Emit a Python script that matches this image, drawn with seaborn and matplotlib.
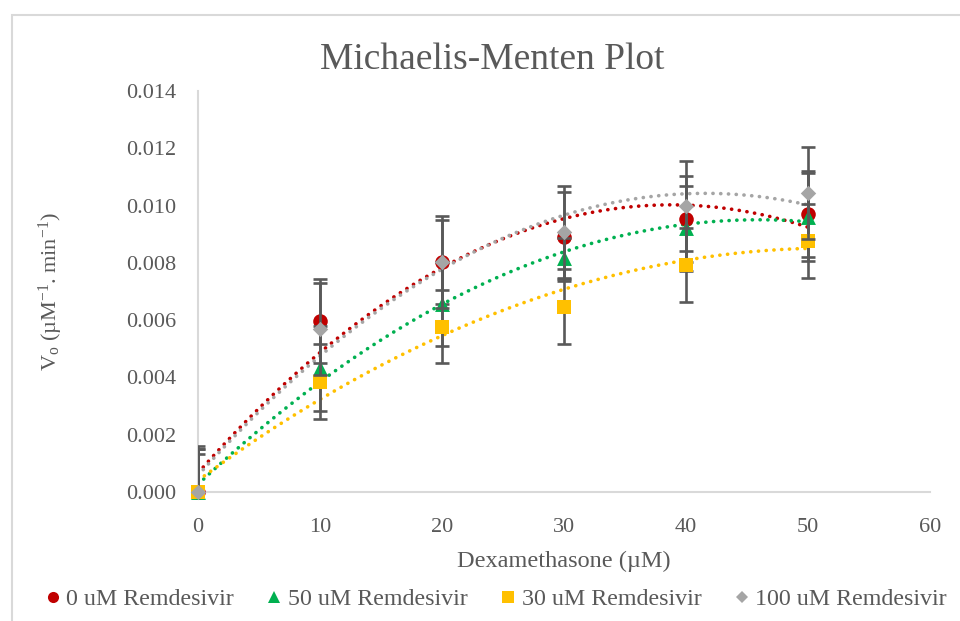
import numpy as np
import pandas as pd
import matplotlib
matplotlib.use("Agg")
import matplotlib.pyplot as plt
from matplotlib.lines import Line2D
from matplotlib.patches import Rectangle
import seaborn as sns

# Substrate concentrations (µM)
dexamethasone = [0, 10, 20, 30, 40, 50]

# Initial velocities for each inhibitor level
v_0uM = [0.0, 0.00598, 0.00804, 0.00891, 0.00954, 0.00970]
v_50uM = [0.0, 0.00432, 0.00656, 0.00816, 0.00920, 0.00959]
v_30uM = [0.0, 0.00385, 0.00577, 0.00647, 0.00792, 0.00876]
v_100uM = [0.0, 0.00568, 0.00804, 0.00906, 0.00999, 0.01043]

# Standard deviations
sd_0uM = [0.00150, 0.00146, 0.00146, 0.00155, 0.00150, 0.00150]
sd_50uM = [0.00149, 0.00149, 0.00146, 0.00070, 0.00149, 0.00153]
sd_30uM = [0.00133, 0.00130, 0.00128, 0.00130, 0.00130, 0.00128]
sd_100uM = [0.00161, 0.00161, 0.00160, 0.00161, 0.00157, 0.00160]

series_names = ["0 uM Remdesivir", "50 uM Remdesivir", "30 uM Remdesivir", "100 uM Remdesivir"]
values = [v_0uM, v_50uM, v_30uM, v_100uM]
errors = [sd_0uM, sd_50uM, sd_30uM, sd_100uM]

colors = {"0 uM Remdesivir": "#C00000", "50 uM Remdesivir": "#00B050",
          "30 uM Remdesivir": "#FFC000", "100 uM Remdesivir": "#A5A5A5"}
markers = {"0 uM Remdesivir": "o", "50 uM Remdesivir": "^",
           "30 uM Remdesivir": "s", "100 uM Remdesivir": "D"}
msizes = {"0 uM Remdesivir": 110, "50 uM Remdesivir": 115,
          "30 uM Remdesivir": 100, "100 uM Remdesivir": 62}

df = pd.DataFrame({
    "x": np.tile(dexamethasone, len(series_names)),
    "v": np.concatenate(values),
    "sd": np.concatenate(errors),
    "series": np.repeat(series_names, len(dexamethasone)),
})

sns.set_theme(style="white")
plt.rcParams["font.family"] = ["Liberation Serif", "DejaVu Serif"]
plt.rcParams["mathtext.fontset"] = "custom"
plt.rcParams["mathtext.rm"] = "Liberation Serif"
plt.rcParams["mathtext.it"] = "Liberation Serif:italic"

text_color = "#595959"
fig = plt.figure(figsize=(9.6, 6.21), dpi=100)
ax = fig.add_axes([198 / 960, 1 - 492 / 621, (930 - 198) / 960, (492 - 91) / 621])

# Chart-area frame
fig.patches.append(Rectangle((12 / 960, -0.1), 1.2, (621 - 15) / 621 + 0.1,
                             transform=fig.transFigure, fill=False,
                             edgecolor="#D9D9D9", linewidth=1.5))

# Second-order polynomial trendlines
xs = np.linspace(0, 50, 200)
for name, v in zip(series_names, values):
    coef = np.polyfit(dexamethasone, v, 2)
    trend = pd.DataFrame({"x": xs, "v": np.polyval(coef, xs)})
    sns.lineplot(data=trend, x="x", y="v", ax=ax, color=colors[name],
                 linewidth=2.6, linestyle=(0, (0.05, 2.1)), zorder=2,
                 dash_capstyle="round")

# Error bars and markers, series by series
for i, name in enumerate(series_names):
    sub = df[df["series"] == name]
    ax.errorbar(sub["x"], sub["v"], yerr=sub["sd"], fmt="none",
                ecolor="#595959", elinewidth=1.9, capsize=5, capthick=1.9,
                zorder=3 + 2 * i)
    sns.scatterplot(data=sub, x="x", y="v", ax=ax, color=colors[name],
                    marker=markers[name], s=msizes[name], linewidth=0,
                    zorder=4 + 2 * i, legend=False, clip_on=False)

ax.set_xlim(0, 60)
ax.set_ylim(0, 0.014)
ax.set_xticks(np.arange(0, 61, 10))
ax.set_yticks(np.arange(0, 0.0141, 0.002))
ax.set_yticklabels([f"{t:.3f}" for t in np.arange(0, 0.0141, 0.002)])
ax.tick_params(axis="both", length=0, labelsize=16, colors=text_color)
ax.tick_params(axis="y", pad=16)
ax.tick_params(axis="x", pad=19)

for side in ["top", "right"]:
    ax.spines[side].set_visible(False)
for side in ["left", "bottom"]:
    ax.spines[side].set_color("#D9D9D9")
    ax.spines[side].set_linewidth(1.5)

ax.set_xlabel("Dexamethasone (µM)", fontsize=17.5, color=text_color, labelpad=10)
ax.set_ylabel(r"V$_\mathrm{o}$ (µM$^\mathrm{-1}$. min$^\mathrm{-1}$)",
              fontsize=16, color=text_color, labelpad=44)
fig.text(492 / 960, 1 - 60 / 621, "Michaelis-Menten Plot", ha="center", va="center",
         fontsize=27, color=text_color)

handles = [Line2D([], [], linestyle="none", marker=markers[n], color=colors[n],
                  markersize=8 if markers[n] != "D" else 6, markeredgewidth=0)
           for n in series_names]
fig.legend(handles, series_names, loc="center", bbox_to_anchor=(495 / 960, 1 - 599 / 621),
           ncol=4, frameon=False, fontsize=17.3, labelcolor=text_color,
           handletextpad=0.15, columnspacing=1.3, handlelength=0.8)

fig.savefig("out.png", dpi=100)
